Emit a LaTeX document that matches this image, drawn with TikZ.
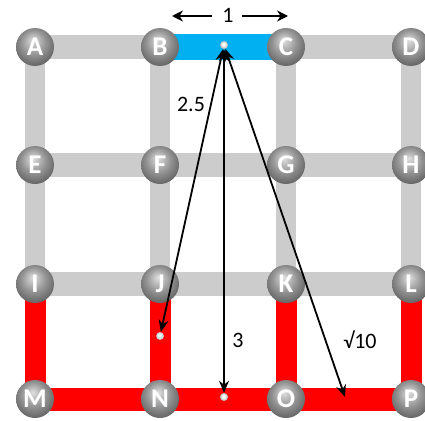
\documentclass[tikz,border=0pt]{standalone}
\usepackage{fontspec}
\setmainfont{Carlito}
\usetikzlibrary{arrows.meta}
\definecolor{bargray}{RGB}{204,204,204}
\definecolor{barred}{RGB}{255,0,0}
\definecolor{barblue}{RGB}{0,176,240}
\pgfdeclareradialshading{greyball}{\pgfqpoint{-3bp}{9bp}}{%
  color(0bp)=(black!12); color(5bp)=(black!22); color(16bp)=(black!42);
  color(27bp)=(black!58); color(34bp)=(black!62); color(50bp)=(black!62)}
\pgfdeclareradialshading{whiteball}{\pgfqpoint{-4bp}{6bp}}{%
  color(0bp)=(white); color(8bp)=(white); color(22bp)=(black!25); color(30bp)=(black!40); color(50bp)=(black!40)}
\tikzset{
  ball/.style={circle,minimum size=38pt,inner sep=0pt,shading=greyball,text=white,font=\fontsize{27}{27}\selectfont\bfseries},
  dot/.style={circle,minimum size=8pt,inner sep=0pt,shading=whiteball},
  gbar/.style={line width=24pt,bargray},
  gvbar/.style={line width=20pt,bargray},
  rbar/.style={line width=23pt,barred},
  rvbar/.style={line width=21pt,barred},
  bbar/.style={line width=25pt,barblue},
  dim/.style={line width=1.8pt,{Stealth[length=12pt,width=10pt]}-{Stealth[length=12pt,width=10pt]}},
  lab/.style={font=\fontsize{22}{22}\selectfont}
}
\begin{document}
\begin{tikzpicture}[x=1pt,y=-1pt]
\useasboundingbox (0,0) rectangle (425,420);
% grid coordinates
\coordinate (pA) at (35,47);  \coordinate (pB) at (160,47);  \coordinate (pC) at (286,47);  \coordinate (pD) at (411,47);
\coordinate (pE) at (35,165); \coordinate (pF) at (160,165); \coordinate (pG) at (286,165); \coordinate (pH) at (411,165);
\coordinate (pI) at (35,284); \coordinate (pJ) at (160,284); \coordinate (pK) at (286,284); \coordinate (pL) at (411,284);
\coordinate (pM) at (35,399); \coordinate (pN) at (160,399); \coordinate (pO) at (286,399); \coordinate (pP) at (411,399);
% gray bars
\draw[gbar] (pA) -- (pB); \draw[gbar] (pC) -- (pD);
\draw[gbar] (pE) -- (pH);
\draw[gbar] (pI) -- (pL);
\draw[gvbar] (pA) -- (pI); \draw[gvbar] (pB) -- (pJ); \draw[gvbar] (pC) -- (pK); \draw[gvbar] (pD) -- (pL);
% blue bar
\draw[bbar] (pB) -- (pC);
% red bars
\draw[rvbar] (pI) -- (pM); \draw[rvbar] (pJ) -- (pN); \draw[rvbar] (pK) -- (pO); \draw[rvbar] (pL) -- (pP);
\draw[rbar] (pM) -- (pP);
% nodes
\foreach \n in {A,B,C,D,E,F,G,H,I,J,K,L,M,N,O,P}
  \node[ball] (\n) at (p\n) {\n};
% dots
\node[dot] (top) at (224,45) {};
\node[dot] (dJN) at (160,336) {};
\node[dot] (dNO) at (224,397) {};
\coordinate (eOP) at (345,397);
% distance arrows
\draw[dim] (top) -- (dJN);
\draw[dim] (top) -- (dNO);
\draw[dim] (top) -- (eOP);
% labels
\node[lab] (one) at (228,15) {1};
\coordinate (l1) at (172,16); \coordinate (l0) at (212,16);
\coordinate (r1) at (288,16); \coordinate (r0) at (242,16);
\draw[line width=1.8pt,-{Stealth[length=11pt,width=11pt]}] (l0) -- (l1);
\draw[line width=1.8pt,-{Stealth[length=11pt,width=11pt]}] (r0) -- (r1);
\node[lab] (t25) at (191,104) {2.5};
\node[lab] (t3) at (238,340) {3};
\node[lab] (t10) at (360,340) {√10};
\end{tikzpicture}
\end{document}
